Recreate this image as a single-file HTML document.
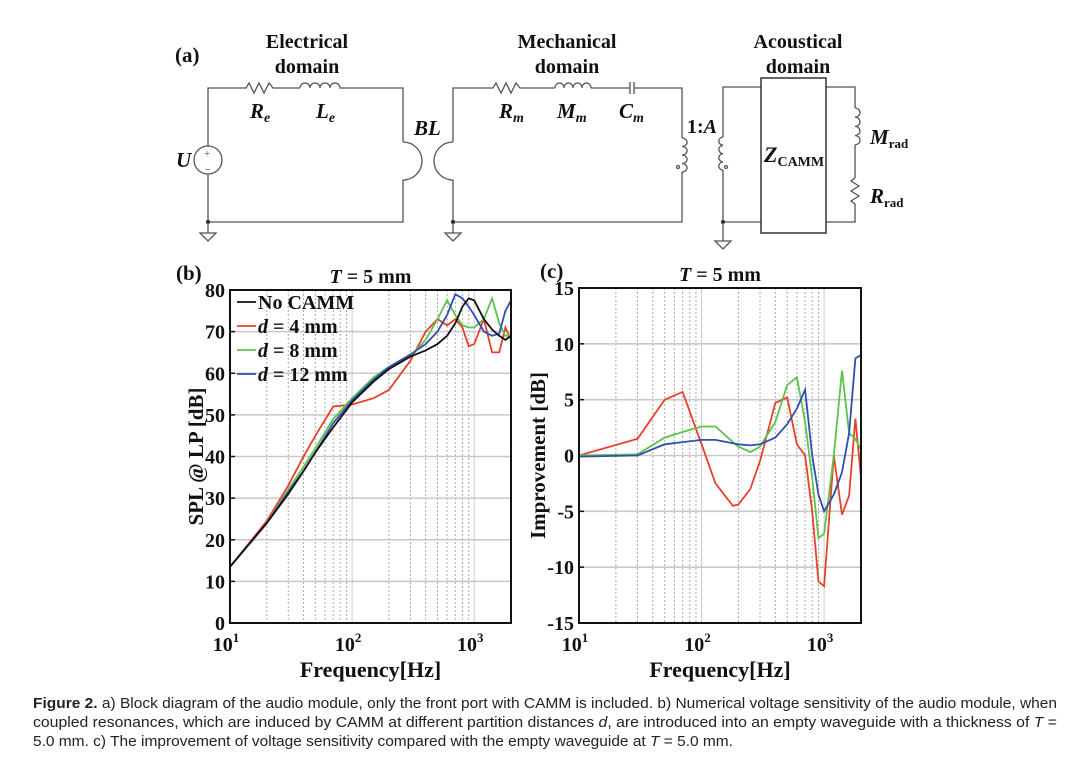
<!DOCTYPE html>
<html><head><meta charset="utf-8"><style>
html,body{margin:0;padding:0;background:#fff;}
svg{display:block;}
.t{font-family:"Liberation Serif",serif;font-weight:bold;fill:#111;}
.w{stroke:#555;stroke-width:1.3;fill:none;}
</style></head><body>
<svg id="fig" width="1080" height="764" viewBox="0 0 1080 764" xmlns="http://www.w3.org/2000/svg">
<g>
<text class="t" x="175" y="62" font-size="21">(a)</text>
<text class="t" x="307" y="48" font-size="20" text-anchor="middle">Electrical</text>
<text class="t" x="307" y="73" font-size="20" text-anchor="middle">domain</text>
<text class="t" x="567" y="48" font-size="20" text-anchor="middle">Mechanical</text>
<text class="t" x="567" y="73" font-size="20" text-anchor="middle">domain</text>
<text class="t" x="798" y="48" font-size="20" text-anchor="middle">Acoustical</text>
<text class="t" x="798" y="73" font-size="20" text-anchor="middle">domain</text>
<path class="w" d="M208,146 V88 H246 l3,-5 l5,10 l5,-10 l5,10 l5,-10 l4,5 H300 M345,88 H403 V142 M403,180 V222 H208 V174"/>
<path class="w" d="M300,88 a5,5 0 0 1 10,0 a5,5 0 0 1 10,0 a5,5 0 0 1 10,0 a5,5 0 0 1 10,0 H345"/>
<circle class="w" cx="208" cy="160" r="14"/>
<text x="204" y="157" font-size="11" fill="#555">+</text>
<text x="205" y="172" font-size="11" fill="#555">–</text>
<path class="w" d="M403,142 A19,19 0 0 1 403,180"/>
<path class="w" d="M453,142 A19,19 0 0 0 453,180"/>
<circle cx="208" cy="222" r="2" fill="#222"/>
<path class="w" d="M208,222 V233 M200,233 H216 L208,241 Z"/>
<text class="t" x="250" y="118" font-size="21" font-style="italic">R<tspan font-size="14" dy="4">e</tspan></text>
<text class="t" x="316" y="118" font-size="21" font-style="italic">L<tspan font-size="14" dy="4">e</tspan></text>
<text class="t" x="414" y="135" font-size="21" font-style="italic">BL</text>
<text class="t" x="176" y="167" font-size="21" font-style="italic">U</text>
<path class="w" d="M453,142 V88 H493 l3,-5 l5,10 l5,-10 l5,10 l5,-10 l4,5 H555 M591,88 H630 M634,88 H682 V138 M682,172 V222 H453 V180"/>
<path class="w" d="M555,88 a4.5,5 0 0 1 9,0 a4.5,5 0 0 1 9,0 a4.5,5 0 0 1 9,0 a4.5,5 0 0 1 9,0"/>
<path class="w" d="M630,82 V94 M634,82 V94"/>
<path class="w" d="M682,138 a5,4.2 0 0 1 0,8.5 a5,4.2 0 0 1 0,8.5 a5,4.2 0 0 1 0,8.5 a5,4.2 0 0 1 0,8.5"/>
<circle cx="678" cy="167" r="1.5" class="w"/>
<circle cx="453" cy="222" r="2" fill="#222"/>
<path class="w" d="M453,222 V233 M445,233 H461 L453,241 Z"/>
<text class="t" x="499" y="118" font-size="21" font-style="italic">R<tspan font-size="14" dy="4">m</tspan></text>
<text class="t" x="557" y="118" font-size="21" font-style="italic">M<tspan font-size="14" dy="4">m</tspan></text>
<text class="t" x="619" y="118" font-size="21" font-style="italic">C<tspan font-size="14" dy="4">m</tspan></text>
<text class="t" x="687" y="133" font-size="20">1:<tspan font-style="italic">A</tspan></text>
<path class="w" d="M723,137 V87 H761 M826,87 H855 V108 M855,145 V178 M855,208 V222 H826 M761,222 H723 V170"/>
<path class="w" d="M723,137 a5,4.2 0 0 0 0,8.3 a5,4.2 0 0 0 0,8.3 a5,4.2 0 0 0 0,8.3 a5,4.2 0 0 0 0,8.3"/>
<circle cx="726" cy="167" r="1.5" class="w"/>
<rect x="761" y="78" width="65" height="155" fill="none" stroke="#333" stroke-width="1.5"/>
<text class="t" x="764" y="162" font-size="22" font-style="italic">Z<tspan font-size="14" font-style="normal" dy="4">CAMM</tspan></text>
<path class="w" d="M855,108 a5,4.6 0 0 1 0,9.2 a5,4.6 0 0 1 0,9.2 a5,4.6 0 0 1 0,9.2 a5,4.6 0 0 1 0,9.2"/>
<path class="w" d="M855,178 l-4,3 l8,5 l-8,5 l8,5 l-8,5 l4,3 V208"/>
<circle cx="723" cy="222" r="2" fill="#222"/>
<path class="w" d="M723,222 V241 M715,241 H731 L723,249 Z"/>
<text class="t" x="870" y="144" font-size="21" font-style="italic">M<tspan font-size="13" font-style="normal" dy="4">rad</tspan></text>
<text class="t" x="870" y="203" font-size="21" font-style="italic">R<tspan font-size="13" font-style="normal" dy="4">rad</tspan></text>
</g>
<g id="chartB"></g>
<g id="chartC"></g>
<g font-family="'Liberation Sans',sans-serif" font-size="14.5" fill="#222">
<text x="33" y="708" textLength="1024" lengthAdjust="spacingAndGlyphs"><tspan font-weight="bold">Figure 2.</tspan>  a) Block diagram of the audio module, only the front port with CAMM is included. b) Numerical voltage sensitivity of the audio module, when</text>
<text x="33" y="727" textLength="1024" lengthAdjust="spacingAndGlyphs">coupled resonances, which are induced by CAMM at different partition distances <tspan font-style="italic">d</tspan>, are introduced into an empty waveguide with a thickness of <tspan font-style="italic">T</tspan> =</text>
<text x="33" y="746" textLength="700" lengthAdjust="spacingAndGlyphs">5.0 mm. c) The improvement of voltage sensitivity compared with the empty waveguide at <tspan font-style="italic">T</tspan> = 5.0 mm.</text>
</g>
</svg>
<script>
const NS="http://www.w3.org/2000/svg";
const freqB=[10,20,30,40,50,70,100,150,200,300,400,500,600,700,800,900,1000,1200,1400,1600,1800,2000];
const splNoCamm=[13.5,24,31,36.5,41,47,53,58,61,64,65.5,67,69,72,76,78,77.5,73,70.5,69,68,69];
const splD4=[13.5,24.5,33,40,45,52,52.5,54,56,63,70,73,71.5,73,71,66.5,67,73,65,65,71,68];
const splD8=[13.5,24,32,37.5,42,49,54,59,61.5,64,68,73,77.5,74,71.5,71,71,73,78,72,69,69];
const splD12=[13.5,24,31.5,36.5,41,48,53.5,58.5,61.5,64.5,67,70,74,79,78,76,74,70,69,69.5,75,77.5];
const yTicksB=[0,10,20,30,40,50,60,70,80];
const freqC=[10,30,50,70,100,130,180,200,250,300,400,500,600,700,800,900,1000,1200,1400,1600,1800,2000];
const impD4=[0,1.5,5,5.7,1,-2.5,-4.5,-4.4,-3,-0.5,4.7,5.2,1,0,-5,-11.3,-11.7,0,-5.3,-3.6,3.3,-2];
const impD8=[0,0.1,1.6,2.1,2.6,2.6,1.2,0.8,0.3,0.8,3,6.3,7,3,-2,-7.4,-7,0,7.6,2,1.5,0.5];
const impD12=[-0.1,0,1,1.2,1.4,1.4,1.1,1,0.9,1,1.6,2.8,4.2,5.9,0,-3.5,-5,-3.5,-1.5,2,8.7,9];
const yTicksC=[-15,-10,-5,0,5,10,15];
const xDecades=[10,100,1000];
const seriesNames=["No CAMM","d = 4 mm","d = 8 mm","d = 12 mm"];
const colors={black:"#111",red:"#e8402a",green:"#5cc24a",blue:"#2f4fb0"};

function el(tag,attrs,parent){const e=document.createElementNS(NS,tag);for(const k in attrs)e.setAttribute(k,attrs[k]);parent.appendChild(e);return e;}

function drawChart(g,cfg){
  const L=cfg.left,R=cfg.right,T=cfg.top,B=cfg.bottom;
  const xs=f=>L+(Math.log10(f)-1)/(Math.log10(2000)-1)*(R-L);
  const ys=v=>B-(v-cfg.ymin)/(cfg.ymax-cfg.ymin)*(B-T);
  for(let d=10;d<=1000;d*=10){for(let m=2;m<=9;m++){const f=d*m;if(f>2000)break;
    const ln=el("line",{x1:xs(f),x2:xs(f),y1:T,y2:B,stroke:"#aaa","stroke-width":1,"stroke-dasharray":"2,2"},g);
    
    }}
  for(const f of xDecades){const ln=el("line",{x1:xs(f),x2:xs(f),y1:T,y2:B,stroke:"#ccc","stroke-width":1},g);
    
    }
  for(const v of cfg.yticks){const ln=el("line",{x1:L,x2:R,y1:ys(v),y2:ys(v),stroke:"#c8c8c8","stroke-width":1.6},g);
    
    
    const tk=el("line",{x1:L,x2:L+5,y1:ys(v),y2:ys(v),stroke:"#111","stroke-width":1.5},g);
    
    
    const t=el("text",{x:L-5,y:ys(v)+7,"text-anchor":"end","font-size":20,class:"t"},g);t.textContent=v;
    
    }
  for(const f of xDecades){const t=el("text",{x:xs(f)-4,y:B+28,"text-anchor":"middle","font-size":20,class:"t"},g);
    t.textContent="10";const s=el("tspan",{"font-size":13,dy:-9},t);s.textContent=String(Math.round(Math.log10(f)));
    
    }
  cfg.series.forEach(s=>{
    const d=s.vals.map((v,i)=>(i?"L":"M")+xs(cfg.freq[i]).toFixed(1)+","+ys(v).toFixed(1)).join(" ");
    const p=el("path",{d:d,fill:"none",stroke:s.color,"stroke-width":1.8,"clip-path":"url(#"+cfg.clip+")"},g);
    
    
  });
  const fr=el("rect",{x:L,y:T,width:R-L,height:B-T,fill:"none",stroke:"#111","stroke-width":2},g);
  
  
  const cp=el("clipPath",{id:cfg.clip},g);el("rect",{x:L,y:T,width:R-L,height:B-T},cp);
  const ti=el("text",{x:(L+R)/2,y:T-7,"text-anchor":"middle","font-size":20,class:"t"},g);
  ti.innerHTML='<tspan font-style="italic">T</tspan> = 5 mm';
  
  
  const xl=el("text",{x:(L+R)/2,y:B+54,"text-anchor":"middle","font-size":22,class:"t"},g);xl.textContent="Frequency[Hz]";
  
  
  const yl=el("text",{x:0,y:0,"text-anchor":"middle","font-size":21,class:"t",transform:"translate("+cfg.ylx+","+((T+B)/2)+") rotate(-90)"},g);yl.textContent=cfg.ylabel;
  
  
  const pl=el("text",{x:cfg.plx,y:T-10,"font-size":21,class:"t"},g);pl.textContent=cfg.panel;
  
  
}
drawChart(document.getElementById("chartB"),{left:230,right:511,top:290,bottom:623,ymin:0,ymax:80,yticks:yTicksB,freq:freqB,clip:"clipB",
  ylabel:"SPL @ LP [dB]",ylx:203,panel:"(b)",plx:176,
  series:[{vals:splD4,color:colors.red,name:"series-d4"},{vals:splD8,color:colors.green,name:"series-d8"},{vals:splD12,color:colors.blue,name:"series-d12"},{vals:splNoCamm,color:colors.black,name:"series-no-camm"}]});
drawChart(document.getElementById("chartC"),{left:579,right:861,top:288,bottom:623,ymin:-15,ymax:15,yticks:yTicksC,freq:freqC,clip:"clipC",
  ylabel:"Improvement [dB]",ylx:545,panel:"(c)",plx:540,
  series:[{vals:impD4,color:colors.red,name:"series-d4"},{vals:impD8,color:colors.green,name:"series-d8"},{vals:impD12,color:colors.blue,name:"series-d12"}]});
const lg=el("g",{},document.getElementById("chartB"));


const lc=[colors.black,colors.red,colors.green,colors.blue];
seriesNames.forEach((n,i)=>{const y=302+i*24;
  const ln=el("line",{x1:237,x2:256,y1:y,y2:y,stroke:lc[i],"stroke-width":1.8},lg);
  
  
  const t=el("text",{x:258,y:y+7,"font-size":20,class:"t"},lg);
  t.innerHTML=i===0?n:'<tspan font-style="italic">d</tspan>'+n.slice(1);
  
  });
</script>
</body></html>
